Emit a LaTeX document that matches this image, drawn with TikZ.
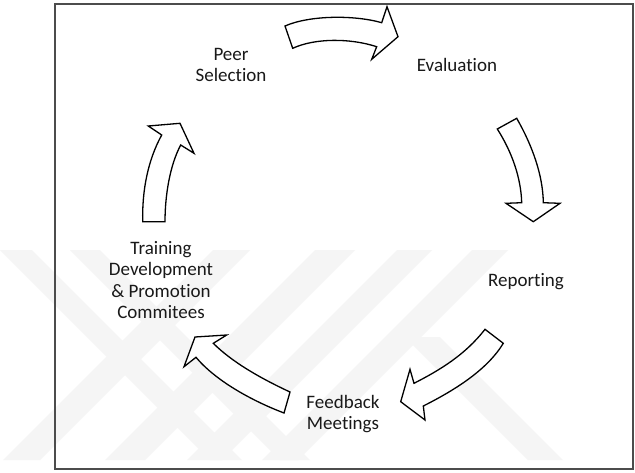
\documentclass[tikz,border=0pt]{standalone}
\usepackage{fontspec}
\setmainfont{Carlito}[Ligatures={NoCommon,NoContextual}]
\begin{document}
\begin{tikzpicture}[x=1pt,y=-1pt,
  wm/.style={fill=black!4, draw=none},
  blockarrow/.style={draw=black, fill=white, line width=1.3pt, line join=miter},
  lbl/.style={font=\fontsize{19}{21.5}\selectfont, align=center, inner sep=0pt, text=black!90}]
\useasboundingbox (0,0) rectangle (635,472);
\fill[white] (0,0) rectangle (635,472);
% watermark
\begin{scope}
\clip (0,250) rectangle (635,460);
\foreach \a/\b in {213/250, 315/355, 397/432, 472/508}
  \fill[wm] (\a,250) -- (\b,250) -- ({\b-210},460) -- ({\a-210},460) -- cycle;
\foreach \a/\b in {0/32, 70/100}
  \fill[wm] (\a,250) -- (\b,250) -- ({\b+210},460) -- ({\a+210},460) -- cycle;
\fill[wm] (405,337) -- (440,337) -- (563,460) -- (528,460) -- cycle;
\end{scope}
% frame
\draw[black!70, line width=1.2pt] (55,4) rectangle (633,469);
% labels
\node[lbl] (peer) at (231,65) {Peer\\Selection};
\node[lbl] (eval) at (457,65) {Evaluation};
\node[lbl] (rep) at (526,282) {Reporting};
\node[lbl] (feed) at (343,414) {Feedback\\Meetings};
\node[lbl] (train) at (161,280) {Training\\Development\\\& Promotion\\Commitees};
% block arrows
\draw[blockarrow] (285,26) .. controls (310,15) and (355,15) .. (381.7,22.7)
  -- (387,6.7) -- (398,36.7) -- (371.7,59.3) -- (376.7,46.7)
  .. controls (350,38) and (315,38) .. (292.7,48.3) -- cycle;
\draw[blockarrow] (497.3,129) -- (516.7,118.3) .. controls (532,145) and (543,175) .. (543.3,202.7)
  -- (560,203.3) -- (533.3,221.7) -- (506,203.3) -- (521.7,202.7)
  .. controls (521,178) and (512,152) .. (497.3,129) -- cycle;
\draw[blockarrow] (485,329.3) .. controls (465,355) and (440,370) .. (414,383.3)
  -- (410,369.3) -- (400.7,401.7) -- (425,420) -- (423.3,406)
  .. controls (455,390) and (487,370) .. (503.3,343.3) -- cycle;
\draw[blockarrow] (290,392) .. controls (260,378) and (232,362) .. (213.3,343.3)
  -- (226.7,335) -- (195,337) -- (184,366.7) -- (196,357.3)
  .. controls (215,380) and (250,400) .. (284,413) -- cycle;
\draw[blockarrow] (142.7,221.7) .. controls (142,190) and (148,160) .. (161.7,135)
  -- (148.3,126) -- (180,123.3) -- (194,153.3) -- (180.7,145)
  .. controls (170,165) and (165,195) .. (165,221.7) -- cycle;
\end{tikzpicture}
\end{document}
